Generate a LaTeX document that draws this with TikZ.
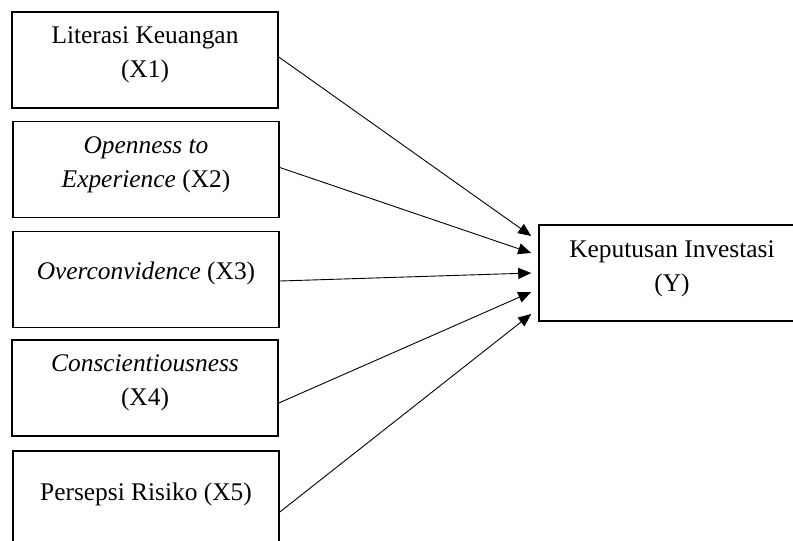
\documentclass[tikz,border=0pt]{standalone}
\usepackage{fontspec}
\setmainfont{Liberation Serif}
\usetikzlibrary{arrows.meta,positioning}

\begin{document}
\begin{tikzpicture}[x=0.5pt, y=-0.5pt,
	var/.style={draw, line width=0.8pt, minimum width=133pt, minimum height=48pt, inner sep=0pt},
	vartext/.style={align=center, inner sep=0pt, font=\fontsize{12.7}{16.8}\selectfont},
	link/.style={-{Triangle[length=6.5pt,width=5.5pt]}, line width=0.45pt}]
	\useasboundingbox (0,0) rectangle (793,541);
	\clip (0,0) rectangle (793,541);

	% left side: the five variables
	\node[var] (x1) at (145,60) {};
	\node[var] (x2) at (146,169.5) {};
	\node[var] (x3) at (146,279.5) {};
	\node[var] (x4) at (145,388) {};
	\node[var] (x5) at (146,499) {};
	\node[vartext] (x1t) at ([yshift=2.5pt]x1.center) {Literasi Keuangan\\(X1)};
	\node[vartext] (x2t) at ([yshift=2.5pt]x2.center) {\textit{Openness to}\\\textit{Experience} (X2)};
	\node[vartext] (x3t) at ([yshift=3pt]x3.center) {\textit{Overconvidence} (X3)};
	\node[vartext] (x4t) at ([yshift=2.5pt]x4.center) {\textit{Conscientiousness}\\(X4)};
	\node[vartext] (x5t) at ([yshift=2.5pt]x5.center) {Persepsi Risiko (X5)};

	% right side: dependent variable
	\node[var] (y) at (672,273) {};
	\node[vartext] (yt) at ([yshift=2pt]y.center) {Keputusan Investasi\\(Y)};

	\foreach \i/\s/\t in {1/1.5/18.5, 2/1/10, 3/-0.75/0, 4/-7.5/-9.5, 5/-6.5/-20.5}
	{
		\draw[link] ([yshift=\s pt]x\i.east) -- ([xshift=-3.5pt, yshift=\t pt]y.west);
	}

\end{tikzpicture}
\end{document}
